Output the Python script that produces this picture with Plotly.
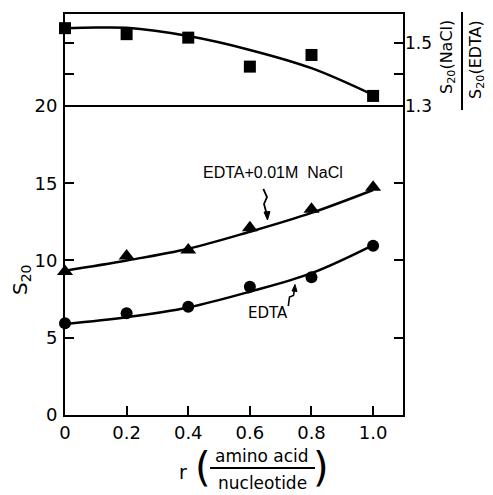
import plotly.graph_objects as go

# ---- data ----
r = [0, 0.2, 0.4, 0.6, 0.8, 1.0]
s20_nacl = [9.28, 10.29, 10.68, 12.12, 13.31, 14.74]      # triangles, EDTA + 0.01M NaCl
s20_edta = [5.93, 6.58, 7.01, 8.30, 8.91, 10.96]           # circles, EDTA
ratio = [1.547, 1.528, 1.517, 1.425, 1.462, 1.332]         # squares, S20(NaCl)/S20(EDTA)

fit_r = [0, 0.2, 0.4, 0.6, 0.8, 1.0]
fit_nacl = [9.34, 10.0, 10.76, 11.86, 13.08, 14.56]
fit_edta = [5.89, 6.33, 6.96, 7.98, 9.18, 11.00]
fit_ratio_r = [0, 0.1, 0.2, 0.4, 0.6, 0.8, 1.0]
fit_ratio = [1.547, 1.549, 1.548, 1.522, 1.478, 1.420, 1.335]

x_ticks = [0, 0.2, 0.4, 0.6, 0.8, 1.0]
x_ticktext = ["0", "0.2", "0.4", "0.6", "0.8", "1.0"]
y_ticks = [0, 5, 10, 15, 20]
y_ticktext = ["0", "5", "10", "15", "20"]
ratio_ticks = [1.3, 1.4, 1.5]
ratio_ticktext = ["1.3", "", "1.5"]

# ---- layout geometry (pixels) ----
W, H = 493, 495
L, R, T, B = 65, 403, 14, 415
PW, PH = R - L, B - T


def px(x):
    return (x - L) / PW


def py(y):
    return (B - y) / PH


FONT = "DejaVu Sans"
BLACK = "black"

fig = go.Figure()

fig.add_trace(go.Scatter(x=fit_r, y=fit_nacl, mode="lines", line=dict(color=BLACK, width=2.5, shape="spline"),
                         showlegend=False, hoverinfo="skip"))
fig.add_trace(go.Scatter(x=fit_r, y=fit_edta, mode="lines", line=dict(color=BLACK, width=2.5, shape="spline"),
                         showlegend=False, hoverinfo="skip"))
fig.add_trace(go.Scatter(x=r, y=s20_nacl, mode="markers",
                         marker=dict(symbol="triangle-up", size=14, color=BLACK), showlegend=False, cliponaxis=False))
fig.add_trace(go.Scatter(x=r, y=s20_edta, mode="markers",
                         marker=dict(symbol="circle", size=12, color=BLACK), showlegend=False, cliponaxis=False))
fig.add_trace(go.Scatter(x=fit_ratio_r, y=fit_ratio, yaxis="y2", mode="lines",
                         line=dict(color=BLACK, width=2.5, shape="spline"), showlegend=False, hoverinfo="skip"))
fig.add_trace(go.Scatter(x=r, y=ratio, yaxis="y2", mode="markers",
                         marker=dict(symbol="square", size=12, color=BLACK), showlegend=False, cliponaxis=False))

axis_common = dict(showgrid=False, zeroline=False, showline=True, linecolor=BLACK, linewidth=2,
                   ticks="inside", ticklen=9, tickwidth=2, tickcolor=BLACK,
                   tickfont=dict(family=FONT, size=18, color=BLACK))

fig.update_layout(
    width=W, height=H,
    margin=dict(l=L, r=W - R, t=T, b=H - B, autoexpand=False),
    paper_bgcolor="white", plot_bgcolor="white",
    xaxis=dict(range=[0, 1.097], tickvals=x_ticks, ticktext=x_ticktext, mirror="ticks", **axis_common),
    yaxis=dict(range=[0, 25.95], tickvals=y_ticks, ticktext=y_ticktext, mirror="ticks", ticklabelstandoff=2,
               **axis_common),
    yaxis2=dict(domain=[py(106), 1], range=[1.3, 1.592], anchor="x", side="right",
                tickvals=ratio_ticks, ticktext=ratio_ticktext, mirror="ticks",
                showgrid=False, zeroline=False, showline=False,
                ticks="inside", ticklen=9, tickwidth=2, tickcolor=BLACK, ticklabelstandoff=1,
                tickfont=dict(family=FONT, size=17, color=BLACK)),
)

shapes = []
# horizontal divider at S20 = 20
shapes.append(dict(type="line", xref="paper", yref="y", x0=0, x1=1, y0=20, y1=20,
                   line=dict(color=BLACK, width=2)))
# fraction bar of right axis title
shapes.append(dict(type="line", xref="paper", yref="paper", x0=px(462), x1=px(462), y0=py(12), y1=py(110),
                   line=dict(color=BLACK, width=2)))
# fraction bar of x title
shapes.append(dict(type="line", xref="paper", yref="paper", x0=px(210), x1=px(315), y0=py(468), y1=py(468),
                   line=dict(color=BLACK, width=2)))


def path(points):
    return "M " + " L ".join(f"{px(a):.4f},{py(b):.4f}" for a, b in points)


# squiggle arrows
shapes.append(dict(type="path", xref="paper", yref="paper",
                   path=path([(263.3, 189), (267, 197), (264, 204), (267, 215)]),
                   line=dict(color=BLACK, width=1.8)))
shapes.append(dict(type="path", xref="paper", yref="paper",
                   path=path([(264, 212), (267.5, 220), (270, 211.5)]) + " Z",
                   fillcolor=BLACK, line=dict(color=BLACK, width=1)))
shapes.append(dict(type="path", xref="paper", yref="paper",
                   path=path([(288.3, 306), (289.5, 297), (293.5, 295.5), (294.5, 289)]),
                   line=dict(color=BLACK, width=1.6)))
shapes.append(dict(type="path", xref="paper", yref="paper",
                   path=path([(292, 291), (295, 284.5), (297, 291.5)]) + " Z",
                   fillcolor=BLACK, line=dict(color=BLACK, width=1)))
fig.update_layout(shapes=shapes)


def ann(text, x, y, size, angle=0, family=FONT):
    fig.add_annotation(text=text, x=px(x), y=py(y), xref="paper", yref="paper", showarrow=False,
                       xanchor="center", yanchor="middle", textangle=angle,
                       font=dict(family=family, size=size, color=BLACK))


ann("EDTA+0.01M  NaCl", 273, 173, 16, family="Liberation Sans")
ann("EDTA", 267.5, 312.5, 15)
ann("S<sub>20</sub>", 21, 280, 20, angle=-90)
ann("S<sub>20</sub>(NaCl)", 448, 57, 16, angle=-90)
ann("S<sub>20</sub>(EDTA)", 477, 60, 16, angle=-90)
ann("r", 183, 472, 19)
ann("(", 203, 467, 40)
ann(")", 321, 467, 40)
ann("amino acid", 262, 456, 17)
ann("nucleotide", 262, 483, 17)

fig.write_html("out.html", config={"displayModeBar": False},
               post_script="document.body.style.margin='0';document.body.style.overflow='hidden';")
